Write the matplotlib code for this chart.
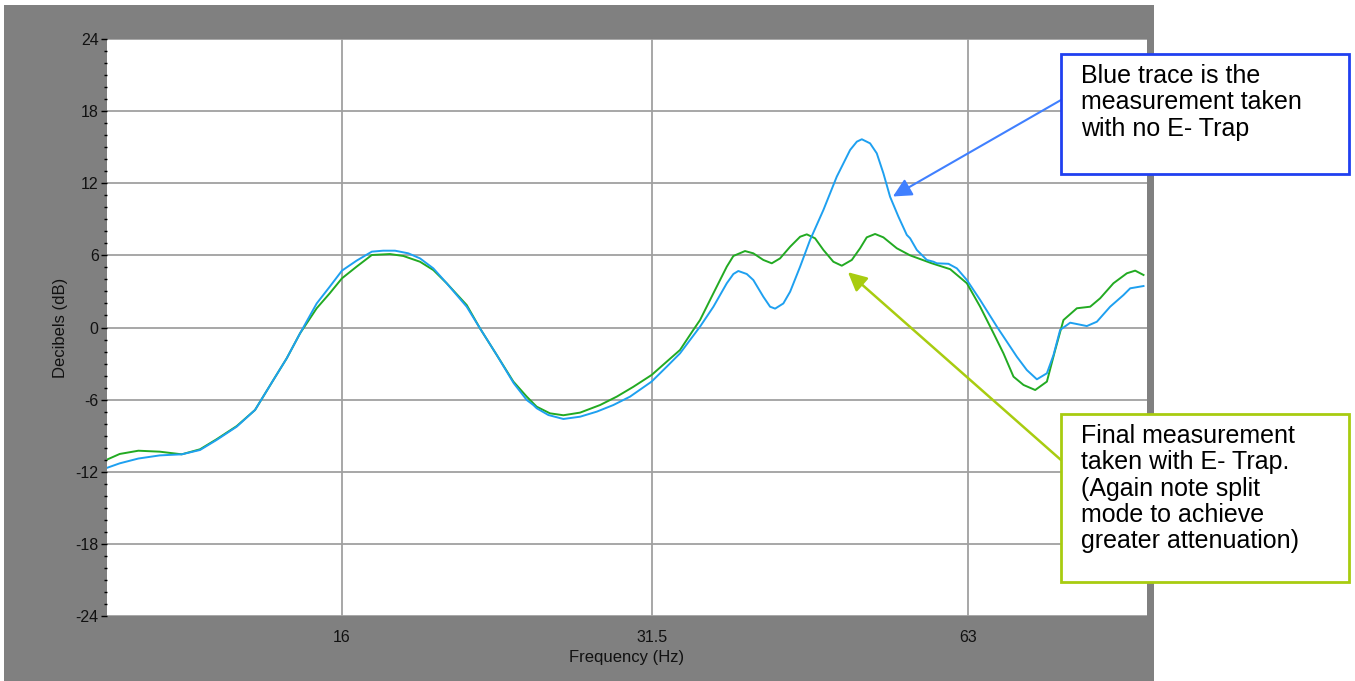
import numpy as np
import matplotlib
matplotlib.use('Agg')
import matplotlib.pyplot as plt
from matplotlib.patches import Rectangle
from matplotlib.ticker import FixedLocator, MultipleLocator, NullLocator

plt.rcParams['font.family'] = ['Liberation Sans', 'DejaVu Sans']
plt.rcParams['axes.unicode_minus'] = False

# blue trace: measurement with no E-Trap
blue_freq = [9.58, 9.84, 10.25, 10.74, 11.27, 11.73, 12.16, 12.71, 13.23, 13.77,
             14.18, 14.60, 15.14, 15.58, 16.0, 16.52, 17.08, 17.51, 17.97, 18.50,
             18.98, 19.54, 20.12, 21.02, 21.64, 22.45, 23.3, 23.97, 24.32, 24.50,
             25.13, 25.97, 26.94, 27.94, 28.97, 30.05, 31.5, 32.56, 33.52, 35.02,
             36.06, 37.13, 37.67, 38.08, 38.79, 39.35, 40.22, 40.82, 41.27, 42.02,
             42.65, 43.59, 44.55, 45.87, 47.23, 48.63, 49.35, 49.89, 50.80, 51.55,
             52.30, 53.07, 54.05, 55.05, 55.45, 56.27, 57.51, 58.36, 58.78, 60.3,
             61.42, 62.78, 64.63, 67.04, 68.52, 70.03, 71.58, 73.17, 74.79, 75.88,
             76.99, 78.70, 81.62, 83.43, 85.89, 88.43, 89.74, 92.39]
blue_db = [-11.66, -11.3, -10.9, -10.64, -10.55, -10.19, -9.36, -8.25, -6.86, -4.37,
           -2.56, -0.48, 2.0, 3.4, 4.73, 5.56, 6.31, 6.39, 6.39, 6.17,
           5.75, 4.92, 3.68, 1.73, -0.07, -2.29, -4.64, -6.03, -6.45, -6.72,
           -7.28, -7.61, -7.42, -7.0, -6.45, -5.75, -4.5, -3.26, -2.15, 0.07,
           1.73, 3.68, 4.45, 4.7, 4.45, 3.95, 2.56, 1.73, 1.57, 2.0,
           2.98, 5.06, 7.28, 9.78, 12.55, 14.77, 15.46, 15.66, 15.32, 14.49,
           12.83, 10.88, 9.22, 7.7, 7.42, 6.45, 5.62, 5.47, 5.34, 5.3,
           4.92, 3.95, 2.29, 0.07, -1.18, -2.43, -3.54, -4.31, -3.81, -2.29,
           -0.2, 0.4, 0.12, 0.48, 1.73, 2.7, 3.26, 3.45]

# green trace: final measurement with E-Trap
green_freq = [9.58, 9.84, 10.25, 10.74, 11.27, 11.73, 12.16, 12.71, 13.23, 13.77,
              14.18, 14.60, 15.14, 15.58, 16.0, 16.52, 17.08, 17.77, 18.30, 18.98,
              19.54, 20.12, 21.02, 21.64, 22.45, 23.28, 23.97, 24.32, 24.50, 25.22,
              25.97, 26.94, 28.14, 29.19, 30.27, 31.5, 32.56, 33.52, 34.51, 35.02,
              36.06, 37.13, 37.67, 38.64, 39.35, 40.22, 40.97, 41.72, 42.65, 43.59,
              44.23, 45.04, 45.87, 46.88, 47.75, 48.81, 49.70, 50.43, 51.36, 52.30,
              53.86, 55.45, 58.1, 60.53, 62.78, 64.63, 66.55, 68.01, 69.52, 71.06,
              72.9, 74.79, 76.16, 77.55, 79.86, 82.22, 84.03, 86.51, 89.09, 90.72,
              92.39]
green_db = [-10.97, -10.52, -10.25, -10.33, -10.55, -10.13, -9.3, -8.2, -6.86, -4.37,
            -2.56, -0.48, 1.6, 2.85, 4.09, 5.06, 6.03, 6.11, 5.95, 5.47,
            4.78, 3.68, 1.87, -0.07, -2.29, -4.5, -5.75, -6.31, -6.59, -7.14,
            -7.3, -7.08, -6.45, -5.75, -4.93, -3.95, -2.84, -1.87, -0.2, 0.62,
            2.85, 5.06, 5.95, 6.36, 6.17, 5.62, 5.34, 5.75, 6.72, 7.55,
            7.75, 7.42, 6.45, 5.47, 5.14, 5.62, 6.59, 7.5, 7.78, 7.5,
            6.59, 6.0, 5.35, 4.85, 3.68, 1.73, -0.48, -2.15, -4.09, -4.78,
            -5.2, -4.5, -1.87, 0.62, 1.6, 1.73, 2.43, 3.68, 4.51, 4.73,
            4.37]

x_ticks = [16, 31.5, 63]
x_tick_labels = ['16', '31.5', '63']
y_ticks = [-24, -18, -12, -6, 0, 6, 12, 18, 24]

blue_note = 'Blue trace is the\nmeasurement taken\nwith no E- Trap'
green_note = ('Final measurement\ntaken with E- Trap.\n(Again note split\n'
              'mode to achieve\ngreater attenuation)')

W, H = 1355, 681
fig = plt.figure(figsize=(W / 100, H / 100), dpi=100)
fig.patch.set_facecolor('white')
fig.patches.append(Rectangle((4 / W, 0), 1150 / W, 676 / H, transform=fig.transFigure,
                             facecolor='#808080', edgecolor='none', zorder=-5))

ax = fig.add_axes([107 / W, (H - 616) / H, 1040 / W, 577 / H])
ax.set_facecolor('white')
ax.set_xscale('log')
ax.set_xlim(9.57, 93.1)
ax.set_ylim(-24, 24)

ax.plot(green_freq, green_db, color='#22AA22', lw=1.4, zorder=3)
ax.plot(blue_freq, blue_db, color='#1EA0F0', lw=1.4, zorder=4)

ax.xaxis.set_major_locator(FixedLocator(x_ticks))
ax.xaxis.set_minor_locator(NullLocator())
ax.set_xticklabels(x_tick_labels)
ax.yaxis.set_major_locator(FixedLocator(y_ticks))
ax.yaxis.set_minor_locator(MultipleLocator(1))
ax.grid(True, which='major', color='#A0A0A0', lw=1.3)
ax.set_axisbelow(True)
for s in ax.spines.values():
    s.set_visible(False)
ax.tick_params(axis='x', length=0, pad=10, labelsize=11.5, labelcolor='#111111')
ax.tick_params(axis='y', which='major', length=4, width=1, direction='out',
               pad=2, labelsize=11.5, labelcolor='#111111')
ax.tick_params(axis='y', which='minor', length=2, width=1, direction='out')
ax.set_xlabel('Frequency (Hz)', fontsize=12, color='#111111', labelpad=4)
ax.set_ylabel('Decibels (dB)', fontsize=12, color='#111111', labelpad=5)

# note boxes
fig.patches.append(Rectangle((1061 / W, 1 - 174 / H), 288 / W, 120 / H,
                             transform=fig.transFigure, facecolor='white',
                             edgecolor='#2040F0', lw=2, zorder=5))
fig.patches.append(Rectangle((1061 / W, 1 - 582 / H), 288 / W, 168 / H,
                             transform=fig.transFigure, facecolor='white',
                             edgecolor='#A8CC10', lw=2, zorder=5))
fig.text(1081 / W, 1 - 64 / H, blue_note, fontsize=18, va='top', ha='left',
         linespacing=1.12, zorder=6)
fig.text(1081 / W, 1 - 424 / H, green_note, fontsize=18, va='top', ha='left',
         linespacing=1.12, zorder=6)

ax.annotate('', xy=(53.4, 10.9), xycoords='data',
            xytext=(1061 / W, 1 - 100 / H), textcoords='figure fraction',
            arrowprops=dict(arrowstyle='-|>', color='#4080FF', lw=1.5,
                            mutation_scale=28, shrinkA=0, shrinkB=0),
            annotation_clip=False, zorder=7)
ax.annotate('', xy=(48.4, 4.6), xycoords='data',
            xytext=(1061 / W, 1 - 460 / H), textcoords='figure fraction',
            arrowprops=dict(arrowstyle='-|>', color='#A8CC10', lw=1.8,
                            mutation_scale=28, shrinkA=0, shrinkB=0),
            annotation_clip=False, zorder=7)

fig.savefig('out.png', dpi=100)
